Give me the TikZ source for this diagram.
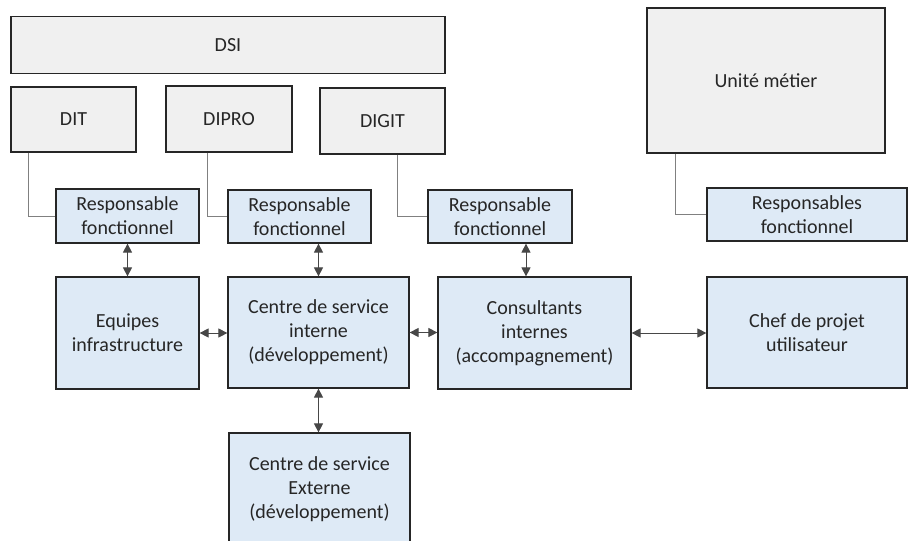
\documentclass[tikz,border=0pt]{standalone}
\usepackage{fontspec}
\setmainfont{Carlito}
\usetikzlibrary{arrows.meta}

\definecolor{boxgray}{HTML}{F0F0F0}
\definecolor{boxblue}{HTML}{DEEAF6}
\definecolor{edgedark}{HTML}{262626}
\definecolor{linkgray}{HTML}{808080}

\tikzset{
  unit/.style={draw=edgedark, line width=1.2pt, fill=boxgray, align=center,
    inner sep=0pt, font=\fontsize{20}{24}\selectfont, text=edgedark},
  role/.style={unit, fill=boxblue},
  link/.style={draw=linkgray, line width=0.9pt},
  exchange/.style={draw=edgedark!85, line width=0.9pt,
    {Triangle[length=9pt,width=9pt]}-{Triangle[length=9pt,width=9pt]}}
}

\begin{document}
\begin{tikzpicture}[x=1pt, y=-1pt]
  \useasboundingbox (0,0) rectangle (908,541);
  % organisation
  \node[unit, minimum width=434pt, minimum height=57pt] (dsi) at (228,45) {DSI};
  \node[unit, minimum width=125pt, minimum height=65pt] (dit) at (73.5,119.5) {DIT};
  \node[unit, minimum width=126pt, minimum height=66pt] (dipro) at (229,119) {DIPRO};
  \node[unit, minimum width=125pt, minimum height=66pt] (digit) at (382.5,121) {DIGIT};
  \node[unit, minimum width=238pt, minimum height=145pt] (unite) at (766,80.5) {Unité métier};
  % responsables
  \node[role, minimum width=143pt, minimum height=54pt] (resp1) at (127.5,216) {Responsable\\fonctionnel};
  \node[role, minimum width=143pt, minimum height=53pt] (resp2) at (299.5,216.5) {Responsable\\fonctionnel};
  \node[role, minimum width=144pt, minimum height=53pt] (resp3) at (500,216.5) {Responsable\\fonctionnel};
  \node[role, minimum width=200pt, minimum height=53pt] (resp4) at (807,214.5) {Responsables\\fonctionnel};
  % equipes
  \node[role, minimum width=143pt, minimum height=112pt] (equipes) at (127.5,333) {Equipes\\infrastructure};
  \node[role, minimum width=181pt, minimum height=111pt] (interne) at (318.5,332.5) {Centre de service\\interne\\(développement)};
  \node[role, minimum width=193pt, minimum height=112pt] (consult) at (534.5,333) {Consultants\\internes\\(accompagnement)};
  \node[role, minimum width=200pt, minimum height=111pt] (chef) at (807,332.5) {Chef de projet\\utilisateur};
  \node[role, minimum width=181pt, minimum height=112pt] (externe) at (319.5,489) {Centre de service\\Externe\\(développement)};

  \draw[link] ([xshift=18pt]dit.south west) |- (resp1.west);
  \draw[link] ([xshift=42pt]dipro.south west) |- (resp2.west);
  \draw[link] ([xshift=78pt]digit.south west) |- (resp3.west);
  \draw[link] ([xshift=29pt]unite.south west) |- (resp4.west);

  \draw[exchange] (resp1.south) -- (equipes.north);
  \draw[exchange] (resp2.south -| interne.north) -- (interne.north);
  \draw[exchange] ([xshift=26pt]resp3.south) -- ([xshift=26pt]resp3.south |- consult.north);
  \draw[exchange] (equipes.east) -- (equipes.east -| interne.west);
  \draw[exchange] (interne.east) -- (interne.east -| consult.west);
  \draw[exchange] (consult.east) -- (consult.east -| chef.west);
  \draw[exchange] (interne.south) -- (interne.south |- externe.north);
\end{tikzpicture}
\end{document}
